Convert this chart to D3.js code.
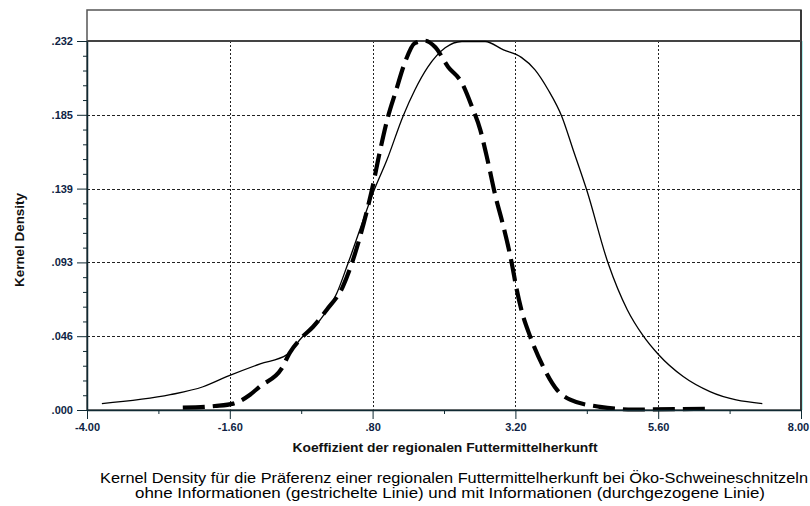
<!DOCTYPE html>
<html>
<head>
<meta charset="utf-8">
<script src="https://cdn.jsdelivr.net/npm/d3@7"></script>
<style>
  html, body { margin: 0; padding: 0; background: #fff; }
  svg { display: block; }
  text { font-family: "Liberation Sans", Arial, sans-serif; }
</style>
</head>
<body>
<svg id="chart" width="810" height="506"></svg>
<script>
// ---- data ----
const xTickValues = [-4.0, -1.6, 0.8, 3.2, 5.6, 8.0];
const xTickLabels = ["-4.00", "-1.60", ".80", "3.20", "5.60", "8.00"];
const xMinorValues = [-2.8, -0.4, 2.0, 4.4, 6.8];
const yTickValues = [0, 0.04636, 0.09272, 0.13908, 0.18544, 0.2318];
const yTickLabels = [".000", ".046", ".093", ".139", ".185", ".232"];
const xDomain = [-4.0, 8.0];
const yDomain = [0, 0.2318];

// with information (solid line)
const solidX = [-3.75, -2.6, -2.05, -1.61, -1.09, -0.64, -0.39, -0.08, 0.2, 0.386, 0.83, 1.04, 1.31, 1.51, 1.73, 2.02, 2.30, 2.69, 3.0, 3.3, 3.53, 3.75, 3.98, 4.17, 4.40, 4.76, 5.08, 5.34, 5.60, 6.02, 6.47, 7.35];
const solidY = [0.004, 0.0096, 0.0146, 0.0216, 0.029, 0.0348, 0.0455, 0.0567, 0.0735, 0.092, 0.1385, 0.157, 0.1844, 0.201, 0.2155, 0.2275, 0.2315, 0.2315, 0.2262, 0.2215, 0.2137, 0.2012, 0.1844, 0.1635, 0.138, 0.092, 0.063, 0.047, 0.035, 0.021, 0.0115, 0.004];

// without information (dashed line)
const dashX = [-2.39, -1.85, -1.54, -1.26, -1.09, -0.73, -0.59, -0.39, -0.2, 0.03, 0.30, 0.45, 0.59, 0.71, 0.79, 0.92, 1.06, 1.18, 1.34, 1.51, 1.68, 1.85, 2.07, 2.30, 2.47, 2.61, 2.72, 2.88, 2.97, 3.14, 3.22, 3.30, 3.45, 3.67, 3.90, 4.12, 4.62, 5.18, 6.43];
const dashY = [0.0015, 0.0025, 0.004, 0.0096, 0.0149, 0.026, 0.036, 0.0455, 0.0523, 0.063, 0.0775, 0.092, 0.109, 0.126, 0.1385, 0.162, 0.1844, 0.199, 0.218, 0.2305, 0.232, 0.228, 0.2155, 0.2055, 0.1905, 0.176, 0.159, 0.132, 0.1195, 0.092, 0.076, 0.063, 0.046, 0.027, 0.0127, 0.0065, 0.002, 0.0003, 0.0008];

const yAxisTitle = "Kernel Density";
const xAxisTitle = "Koeffizient der regionalen Futtermittelherkunft";
const captionLines = [
  "Kernel Density für die Präferenz einer regionalen Futtermittelherkunft bei Öko-Schweineschnitzeln",
  "ohne Informationen (gestrichelte Linie) und mit Informationen (durchgezogene Linie)"
];

// ---- layout ----
const svg = d3.select("#chart");
const pLeft = 87, pRight = 801, pTop = 41, pBottom = 410, boxTop = 10;
const labelColor = "#0f1f45";

const x = d3.scaleLinear().domain(xDomain).range([pLeft, pRight]);
const y = d3.scaleLinear().domain(yDomain).range([pBottom, pTop]);

// grid
const grid = svg.append("g");
grid.selectAll("line.v").data(xTickValues.slice(1, -1)).join("line")
  .attr("x1", d => Math.round(x(d)) + 0.5).attr("x2", d => Math.round(x(d)) + 0.5)
  .attr("y1", pTop).attr("y2", pBottom)
  .attr("stroke", "#222").attr("stroke-width", 1).attr("stroke-dasharray", "2,2");
grid.selectAll("line.h").data(yTickValues.slice(1, -1)).join("line")
  .attr("x1", pLeft).attr("x2", pRight)
  .attr("y1", d => Math.round(y(d)) + 0.5).attr("y2", d => Math.round(y(d)) + 0.5)
  .attr("stroke", "#222").attr("stroke-width", 1).attr("stroke-dasharray", "3,2");

// outer box
svg.append("rect").attr("x", pLeft).attr("y", boxTop).attr("width", pRight - pLeft).attr("height", pBottom - boxTop)
  .attr("fill", "none").attr("stroke", "#555").attr("stroke-width", 1.5);
svg.append("line").attr("x1", pRight + 1.5).attr("x2", pRight + 1.5).attr("y1", pTop).attr("y2", pBottom)
  .attr("stroke", "#aef0ee").attr("stroke-width", 1);
svg.append("line").attr("x1", pRight).attr("x2", pRight).attr("y1", boxTop).attr("y2", pBottom)
  .attr("stroke", "#222").attr("stroke-width", 1.5);
svg.append("line").attr("x1", pLeft).attr("x2", pRight).attr("y1", pTop).attr("y2", pTop)
  .attr("stroke", "#444").attr("stroke-width", 2);

// curves
const line = d3.line().x(d => x(d[0])).y(d => y(d[1])).curve(d3.curveMonotoneX);
const solidData = solidX.map((v, i) => [v, solidY[i]]);
const dashData = dashX.map((v, i) => [v, dashY[i]]);
svg.append("path").attr("d", line(solidData)).attr("fill", "none")
  .attr("stroke", "#000").attr("stroke-width", 1.3);
svg.append("path").attr("d", line(dashData)).attr("fill", "none")
  .attr("stroke", "#000").attr("stroke-width", 4.2).attr("stroke-dasharray", "22,8");

// axes
const xAxis = d3.axisBottom(x).tickValues(xTickValues).tickFormat((d, i) => xTickLabels[i]).tickSize(9).tickSizeOuter(0);
const gx = svg.append("g").attr("transform", `translate(0,${pBottom})`).call(xAxis);
gx.select(".domain").attr("stroke", "#102a33").attr("stroke-width", 1.5);
gx.selectAll(".tick line").attr("stroke", "#102a33");
gx.selectAll(".tick text").attr("fill", labelColor).attr("font-size", 11).attr("font-weight", "bold")
  .attr("font-family", "Liberation Sans, Arial, sans-serif").attr("dy", "0.85em")
  .attr("dx", (d, i) => i === xTickValues.length - 1 ? -3 : 0);
const xMinor = d3.axisBottom(x).tickValues(xMinorValues).tickFormat("").tickSize(4).tickSizeOuter(0);
const gxm = svg.append("g").attr("transform", `translate(0,${pBottom})`).call(xMinor);
gxm.select(".domain").remove();
gxm.selectAll(".tick line").attr("stroke", "#102a33");

const yAxis = d3.axisLeft(y).tickValues(yTickValues).tickFormat((d, i) => yTickLabels[i]).tickSize(10).tickSizeOuter(0);
const gy = svg.append("g").attr("transform", `translate(${pLeft},0)`).call(yAxis);
gy.select(".domain").attr("stroke", "#102a33").attr("stroke-width", 1.5);
gy.selectAll(".tick line").attr("stroke", "#102a33");
gy.selectAll(".tick text").attr("fill", labelColor).attr("font-size", 11).attr("font-weight", "bold")
  .attr("font-family", "Liberation Sans, Arial, sans-serif").attr("x", -14);
const yMinorValues = [];
for (let i = 0; i < yTickValues.length - 1; i++) {
  const step = (yTickValues[i + 1] - yTickValues[i]) / 5;
  for (let k = 1; k < 5; k++) yMinorValues.push(yTickValues[i] + k * step);
}
const yMinor = d3.axisLeft(y).tickValues(yMinorValues).tickFormat("").tickSize(4).tickSizeOuter(0);
const gym = svg.append("g").attr("transform", `translate(${pLeft},0)`).call(yMinor);
gym.select(".domain").remove();
gym.selectAll(".tick line").attr("stroke", "#102a33");

// titles
svg.append("text").attr("transform", "translate(24,240) rotate(-90)")
  .attr("text-anchor", "middle").attr("font-size", 13).attr("font-weight", "bold").attr("fill", "#111")
  .attr("textLength", 94).attr("lengthAdjust", "spacingAndGlyphs")
  .text(yAxisTitle);
svg.append("text").attr("x", 445).attr("y", 452)
  .attr("text-anchor", "middle").attr("font-size", 13).attr("font-weight", "bold").attr("fill", "#111")
  .attr("textLength", 305).attr("lengthAdjust", "spacingAndGlyphs")
  .text(xAxisTitle);
const capWidths = [708, 630];
const capCenters = [454, 450];
svg.selectAll("text.cap").data(captionLines).join("text").attr("class", "cap")
  .attr("x", (d, i) => capCenters[i]).attr("y", (d, i) => 483 + i * 15)
  .attr("text-anchor", "middle").attr("font-size", 14).attr("fill", "#000")
  .attr("textLength", (d, i) => capWidths[i]).attr("lengthAdjust", "spacingAndGlyphs")
  .text(d => d);
</script>
</body>
</html>
